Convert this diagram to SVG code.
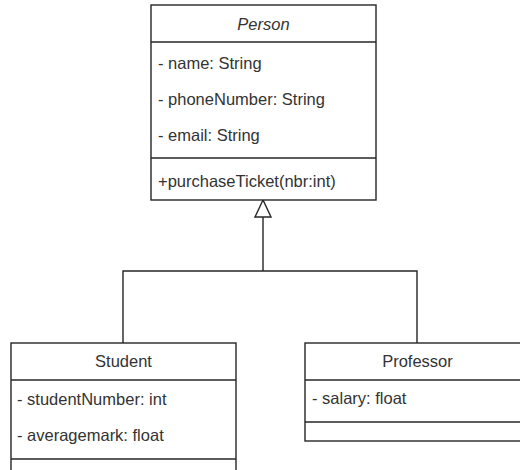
<svg xmlns="http://www.w3.org/2000/svg" width="520" height="470" viewBox="0 0 520 470">
<style>
.box{fill:#fff;stroke:#262626;stroke-width:1.4}
.ln{fill:none;stroke:#262626;stroke-width:1.4}
text{font-family:"Liberation Sans",Arial,sans-serif;font-size:16.5px;fill:#333}
.c{text-anchor:middle}
</style>
<rect width="520" height="470" fill="#fff"/>
<g id="connectors">
<path class="ln" d="M263 217 V271 M123 343 V271 H417 V343"/>
<path class="ln" d="M263 200 L255 217 H271 Z" style="fill:#fff"/>
</g>
<g id="Person">
<rect class="box" x="151" y="5" width="225" height="195"/>
<line class="ln" x1="151" y1="42" x2="376" y2="42"/>
<line class="ln" x1="151" y1="158" x2="376" y2="158"/>
<text class="c" x="263.5" y="30" font-style="italic">Person</text>
<text x="158" y="69">- name: String</text>
<text x="158" y="105">- phoneNumber: String</text>
<text x="158" y="141">- email: String</text>
<text x="158" y="187">+purchaseTicket(nbr:int)</text>
</g>
<g id="Student">
<rect class="box" x="11" y="343" width="225" height="135"/>
<line class="ln" x1="11" y1="380" x2="236" y2="380"/>
<line class="ln" x1="11" y1="459" x2="236" y2="459"/>
<text class="c" x="123.5" y="367">Student</text>
<text x="17" y="405">- studentNumber: int</text>
<text x="17" y="441">- averagemark: float</text>
</g>
<g id="Professor">
<rect class="box" x="305" y="343" width="225" height="98"/>
<line class="ln" x1="305" y1="380" x2="530" y2="380"/>
<line class="ln" x1="305" y1="422" x2="530" y2="422"/>
<text class="c" x="417.5" y="367">Professor</text>
<text x="312" y="404">- salary: float</text>
</g>
</svg>
